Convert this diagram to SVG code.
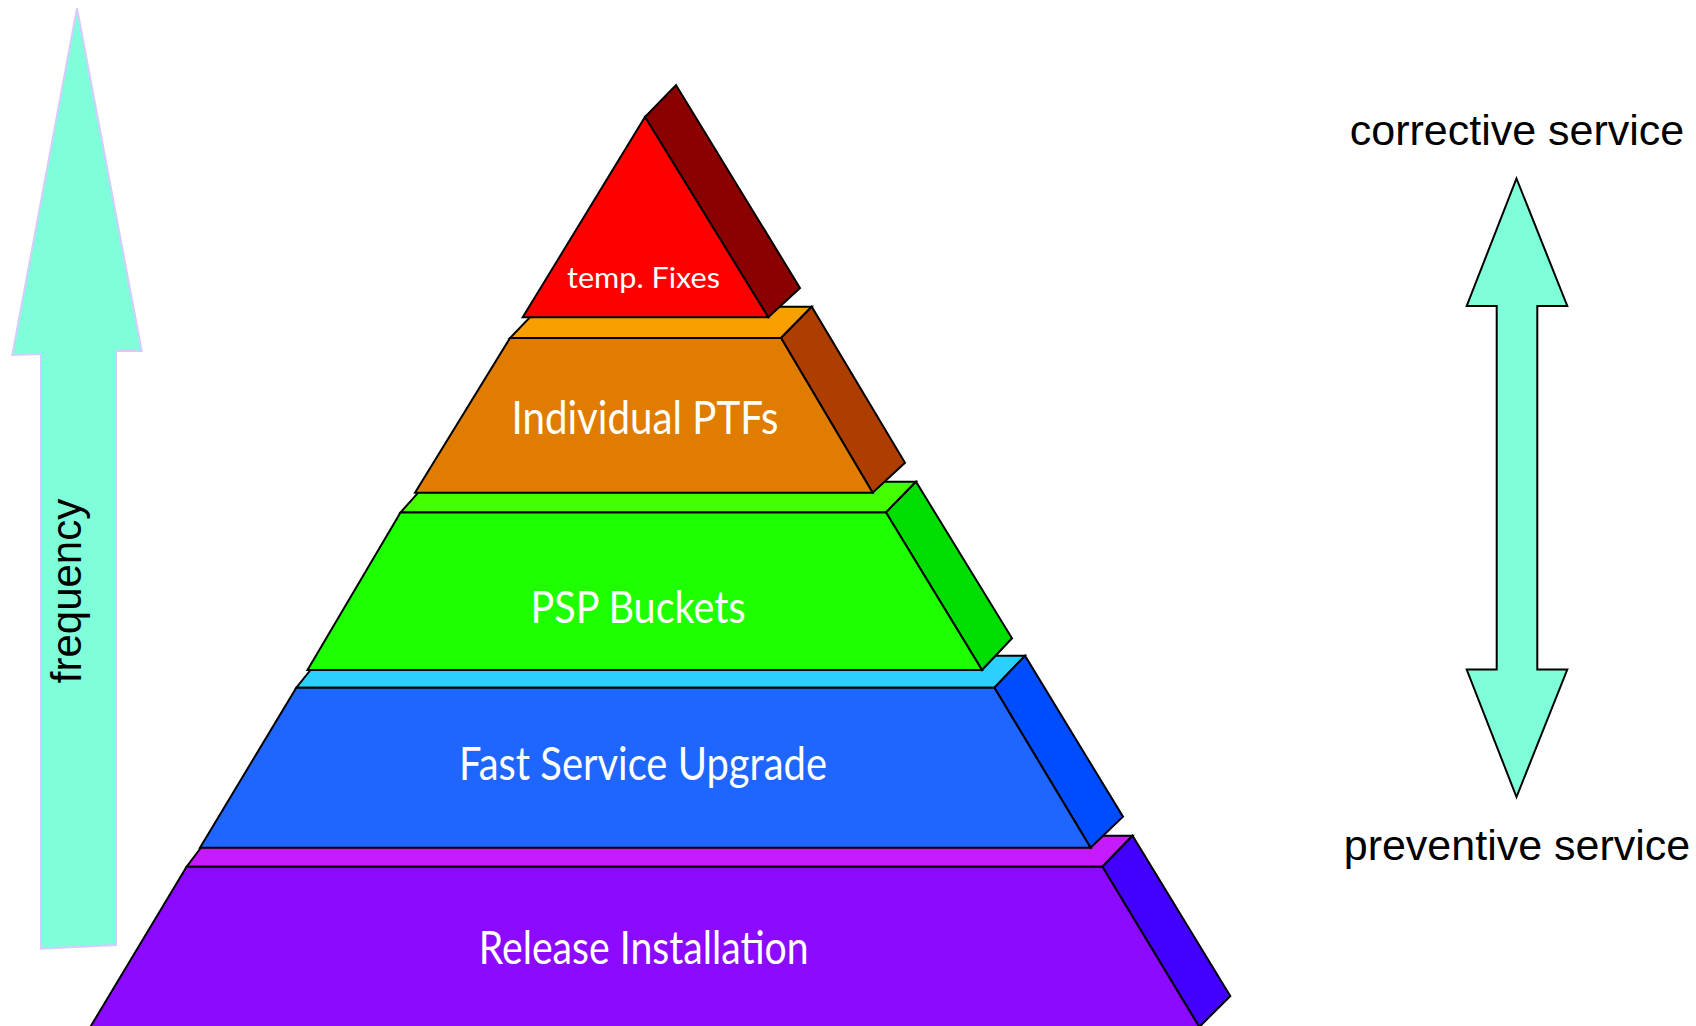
<svg xmlns="http://www.w3.org/2000/svg" width="1696" height="1026" viewBox="0 0 1696 1026">
<style>
.edge{stroke:#000;stroke-width:2;stroke-linejoin:miter}
.lbl{font-family:Lato,"Open Sans","Noto Sans",sans-serif;fill:#fff;text-anchor:middle}
.side-txt{font-family:"Liberation Sans",Arial,sans-serif;fill:#000}
</style>
<rect width="1696" height="1026" fill="#fff"/>
<g id="frequency-arrow">
<polygon points="77,8.3 141.7,351 116,351 116,945 41,948.6 41,354 12.3,355" fill="#7FFFD9" stroke="#D4CCFF" stroke-width="2"/>
<text class="side-txt" transform="translate(81,591) rotate(-90)" text-anchor="middle" font-size="42">frequency</text>
</g>
<g id="tier-release">
<polygon class="edge" points="186.6,866.7 1102.4,866.7 1132.5,835.7 210,835.7" fill="#C71BFF"/>
<polygon class="edge" points="1102.4,866.7 1132.5,835.7 1230.3,996 1199.3,1027" fill="#4400FF"/>
<polygon class="edge" points="186.6,866.7 1102.4,866.7 1199.3,1027 90.3,1027" fill="#8B0AFF"/>
<text class="lbl" x="643.7" y="964" font-size="46" textLength="330" lengthAdjust="spacingAndGlyphs">Release Installation</text>
</g>
<g id="tier-fsu">
<polygon class="edge" points="296.3,687.7 994.4,687.7 1025,655.7 322,655.7" fill="#2BD0FF"/>
<polygon class="edge" points="994.4,687.7 1025,655.7 1123,816.7 1090.6,847.7" fill="#004DFF"/>
<polygon class="edge" points="296.3,687.7 994.4,687.7 1090.6,847.7 200,847.7" fill="#1E66FF"/>
<text class="lbl" x="643" y="780" font-size="46" textLength="368" lengthAdjust="spacingAndGlyphs">Fast Service Upgrade</text>
</g>
<g id="tier-psp">
<polygon class="edge" points="400.5,512.5 886,512.5 916,481.7 428,481.7" fill="#44FF00"/>
<polygon class="edge" points="886,512.5 916,481.7 1012,638.3 982,670" fill="#00DD00"/>
<polygon class="edge" points="400.5,512.5 886,512.5 982,670 307.5,670" fill="#1EFF00"/>
<text class="lbl" x="638" y="623.3" font-size="45" textLength="215" lengthAdjust="spacingAndGlyphs">PSP Buckets</text>
</g>
<g id="tier-ptf">
<polygon class="edge" points="510,338 781,338 811.7,306.7 540,306.7" fill="#F9A000"/>
<polygon class="edge" points="781,338 811.7,306.7 905,462.7 872.7,492.7" fill="#AE3E00"/>
<polygon class="edge" points="510,338 781,338 872.7,492.7 415,492.7" fill="#E07C00"/>
<text class="lbl" x="645" y="434" font-size="46" textLength="267" lengthAdjust="spacingAndGlyphs">Individual PTFs</text>
</g>
<g id="tier-temp">
<polygon class="edge" points="645,117 676,85 800,288 768.3,317.3" fill="#8B0000"/>
<polygon class="edge" points="645,117 768.3,317.3 522.7,317.3" fill="#FF0000"/>
<text class="lbl" x="643.5" y="288.3" font-size="29" textLength="153" lengthAdjust="spacingAndGlyphs">temp. Fixes</text>
</g>
<g id="service-arrow">
<polygon points="1516.5,178.5 1567.3,306 1537.3,306 1537.3,669.5 1567.3,669.5 1516.5,797 1466.7,669.5 1496.7,669.5 1496.7,306 1466.7,306" fill="#7FFFD9" stroke="#000" stroke-width="2"/>
</g>
<g id="label-corrective"><text class="side-txt" x="1517" y="145" text-anchor="middle" font-size="43">corrective service</text></g>
<g id="label-preventive"><text class="side-txt" x="1517" y="860" text-anchor="middle" font-size="43">preventive service</text></g>
<g id="connectors"/>
</svg>
